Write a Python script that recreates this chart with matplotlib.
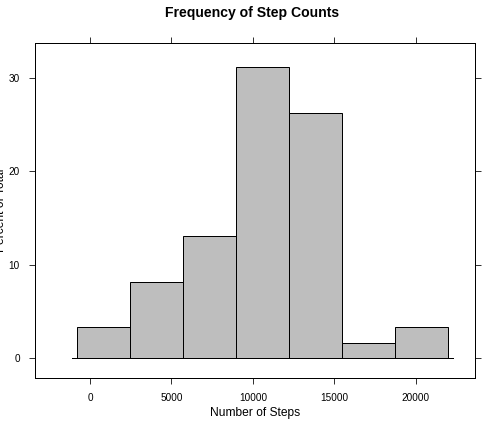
import numpy as np
import matplotlib.pyplot as plt

plt.rcParams['font.family'] = ['Liberation Sans', 'DejaVu Sans']

# histogram bins (steps per day) and percent of total
bin_edges = [-780, 2471, 5722, 8973, 12224, 15475, 18726, 21977]
percents = [3.3, 8.2, 13.1, 31.1, 26.2, 1.6, 3.3]
xticks = [0, 5000, 10000, 15000, 20000]
yticks = [0, 10, 20, 30]

fig = plt.figure(figsize=(7, 6), dpi=72)
ax = fig.add_axes([35/504, 1-378/432, 440/504, 335/432])

widths = np.diff(bin_edges)
ax.bar(bin_edges[:-1], percents, width=widths, align='edge',
       color='#bebebe', edgecolor='black', linewidth=1)
ax.plot([-1100, 22300], [0, 0], color='black', linewidth=1)

ax.set_xlim(-3374, 23620)
ax.set_ylim(-2.1, 33.7)
ax.set_xticks(xticks)
ax.set_yticks(yticks)
ax.tick_params(direction='out', length=6, labelsize=10, top=True, right=True,
               labeltop=False, labelright=False, pad=9)
for s in ax.spines.values():
    s.set_linewidth(1)

ax.set_xlabel('Number of Steps', fontsize=12, labelpad=4)
ax.set_ylabel('Percent of Total', fontsize=12, labelpad=2)
fig.text(0.5, 1-13/432, 'Frequency of Step Counts', ha='center', va='center',
         fontsize=14, fontweight='bold')

fig.savefig('out.png', dpi=72)
